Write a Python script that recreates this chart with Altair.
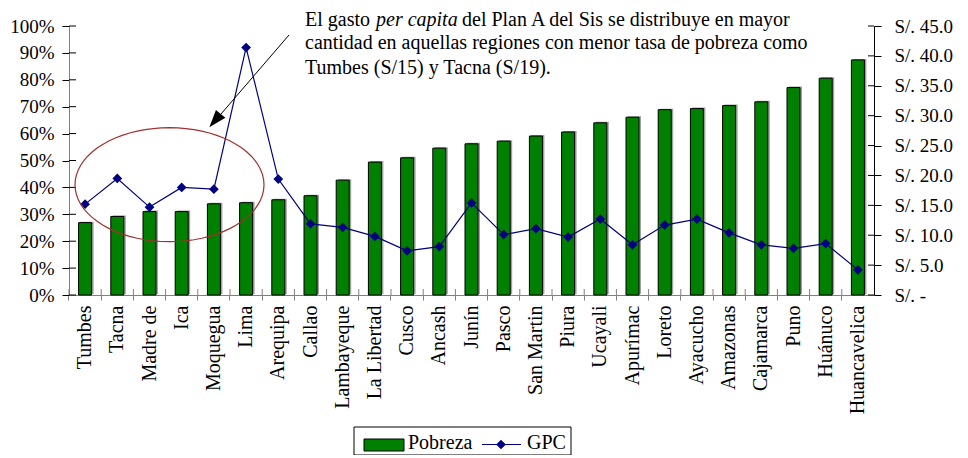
import math
import altair as alt
import pandas as pd

# ---------------- data ----------------
regions = ["Tumbes", "Tacna", "Madre de", "Ica", "Moquegua", "Lima", "Arequipa",
           "Callao", "Lambayeque", "La Libertad", "Cusco", "Ancash", "Junín",
           "Pasco", "San Martin", "Piura", "Ucayali", "Apurímac", "Loreto",
           "Ayacucho", "Amazonas", "Cajamarca", "Puno", "Huánuco", "Huancavelica"]
pobreza = [0.269, 0.292, 0.310, 0.310, 0.339, 0.343, 0.354, 0.369, 0.427, 0.494,
           0.510, 0.546, 0.562, 0.572, 0.591, 0.606, 0.640, 0.661, 0.689, 0.693,
           0.704, 0.718, 0.771, 0.806, 0.874]
gpc = [15.2, 19.5, 14.7, 18.0, 17.7, 41.4, 19.4, 11.9, 11.3, 9.8, 7.4, 8.1, 15.4,
       10.1, 11.1, 9.7, 12.7, 8.4, 11.7, 12.7, 10.4, 8.4, 7.8, 8.6, 4.2]
pct_ticks = [0, 0.1, 0.2, 0.3, 0.4, 0.5, 0.6, 0.7, 0.8, 0.9, 1.0]
sol_ticks = [0, 5, 10, 15, 20, 25, 30, 35, 40, 45]

note_line1a = "El  gasto "
note_line1b = "per capita"
note_line1c = "del Plan A  del Sis se distribuye en mayor"
note_line2 = "cantidad en aquellas regiones con menor tasa de pobreza como"
note_line3 = "Tumbes (S/15) y Tacna (S/19)."

df = pd.DataFrame({"region": regions, "pobreza": pobreza, "gpc": gpc})
df_pct = pd.DataFrame({"t": pct_ticks})
df_sol = pd.DataFrame({"s": sol_ticks})

FONT = "Liberation Serif"
W, H = 805, 269

xscale = alt.Scale(domain=regions, paddingInner=0, paddingOuter=0)
xaxis = alt.Axis(title=None, labelAngle=-90, labelFont=FONT, labelFontSize=20,
                 labelColor="black", labelPadding=5, tickSize=5, tickColor="#808080",
                 domainColor="#808080", bandPosition=0, labelBound=False)
X = alt.X("region:N", sort=regions, scale=xscale, axis=xaxis)

left_axis = alt.Axis(title=None, orient="left", values=pct_ticks, format=".0%",
                     labelFont=FONT, labelFontSize=19, labelColor="black",
                     tickSize=7, tickColor="black", domainColor="#808080",
                     labelPadding=8, grid=False)
right_axis = alt.Axis(title=None, orient="right", values=sol_ticks,
                      labelExpr="datum.value == 0 ? 'S/. -' : 'S/. ' + format(datum.value, '.1f')",
                      labelFont=FONT, labelFontSize=19, labelColor="black",
                      tickSize=7, tickColor="black", domainColor="black",
                      labelPadding=13, grid=False)

lscale = alt.Scale(domain=[0, 1], nice=False)
rscale = alt.Scale(domain=[0, 45], nice=False)
Yl = alt.Y("pobreza:Q", scale=lscale, axis=left_axis)
Yr = alt.Y("gpc:Q", scale=rscale, axis=right_axis)

base = alt.Chart(df)
shadow = base.mark_bar(width=13, color="#a0a0a0", xOffset=2, yOffset=-1).encode(x=X, y=Yl)
bars = base.mark_bar(width=13, color="#008000", stroke="black", strokeWidth=1).encode(x=X, y=Yl)
# inner halves of the crossing ticks
xin = base.mark_rule(color="#808080", strokeWidth=1).encode(
    x=alt.X("region:N", sort=regions, scale=xscale, axis=xaxis, bandPosition=0),
    y=alt.value(H - 6), y2=alt.value(H))
lin = alt.Chart(df_pct).mark_rule(color="black", strokeWidth=1).encode(
    y=alt.Y("t:Q", scale=lscale, axis=left_axis), x=alt.value(0), x2=alt.value(7))
bar_layer = alt.layer(shadow, bars, xin, lin)

line = base.mark_line(color="#000080", strokeWidth=1.2).encode(x=X, y=Yr)
pts = base.mark_point(shape="diamond", filled=True, size=95, color="#000080", opacity=1).encode(x=X, y=Yr)
rin = alt.Chart(df_sol).mark_rule(color="black", strokeWidth=1).encode(
    y=alt.Y("s:Q", scale=rscale, axis=right_axis), x=alt.value(W - 6), x2=alt.value(W))
line_layer = alt.layer(line, pts, rin)

one = alt.Data(values=[{"k": 1}])
OX, OY = 69, 26  # page coords of plot origin


def txt(s, px, py, size=20, italic=False):
    return alt.Chart(one).mark_text(
        text=s, align="left", baseline="alphabetic", font=FONT, fontSize=size,
        fontStyle="italic" if italic else "normal", color="black"
    ).encode(x=alt.value(px - OX), y=alt.value(py - OY))


# annotation text
t1a = txt(note_line1a, 305, 25.5)
t1b = txt(note_line1b, 376, 25.5, italic=True)
t1c = txt(note_line1c, 462, 25.5)
t2 = txt(note_line2, 305, 49)
t3 = txt(note_line3, 305, 74)

# ellipse highlight
n = 72
ry = 57.0 / 94.5
pth = "M " + " L ".join(
    f"{math.cos(2 * math.pi * i / n):.4f} {ry * math.sin(2 * math.pi * i / n):.4f}" for i in range(n)
) + " Z"
ellipse = alt.Chart(one).mark_point(
    shape=pth, size=(2 * 94.5) ** 2, filled=False, stroke="#a0302d", strokeWidth=1.2, opacity=1
).encode(x=alt.value(169.5 - OX), y=alt.value(184.7 - OY))

# arrow
arrow_line = alt.Chart(one).mark_rule(color="black", strokeWidth=1).encode(
    x=alt.value(289 - OX), y=alt.value(35 - OY), x2=alt.value(215 - OX), y2=alt.value(121 - OY))
arrow_head = alt.Chart(one).mark_point(
    shape="M 0 -1 L 0.7 1 L -0.7 1 Z", size=310, filled=True, color="black", opacity=1, angle=220
).encode(x=alt.value(215 - OX), y=alt.value(120.6 - OY))

# legend
leg_box = alt.Chart(one).mark_rect(fill="white", stroke="black", strokeWidth=1).encode(
    x=alt.value(354 - OX), x2=alt.value(571 - OX), y=alt.value(427 - OY), y2=alt.value(455 - OY))
leg_sw = alt.Chart(one).mark_rect(fill="#008000", stroke="black", strokeWidth=1).encode(
    x=alt.value(364 - OX), x2=alt.value(404 - OX), y=alt.value(439 - OY), y2=alt.value(451 - OY))
leg_t1 = txt("Pobreza", 408, 449)
leg_ln = alt.Chart(one).mark_rule(color="#000080", strokeWidth=1.2).encode(
    x=alt.value(482 - OX), x2=alt.value(521 - OX), y=alt.value(444.5 - OY))
leg_pt = alt.Chart(one).mark_point(shape="diamond", filled=True, size=95, color="#000080", opacity=1).encode(
    x=alt.value(501 - OX), y=alt.value(444.5 - OY))
leg_t2 = txt("GPC", 527, 449)

chart = alt.layer(
    bar_layer, line_layer, ellipse, arrow_line, arrow_head,
    t1a, t1b, t1c, t2, t3, leg_box, leg_sw, leg_t1, leg_ln, leg_pt, leg_t2
).resolve_scale(y="independent").properties(
    width=W, height=H,
    autosize=alt.AutoSizeParams(type="none"),
    padding={"left": 61, "top": 18, "right": 85, "bottom": 160},
    background="white",
).configure_view(stroke=None)

chart.save("out.html", embed_options={"renderer": "svg", "actions": False})
